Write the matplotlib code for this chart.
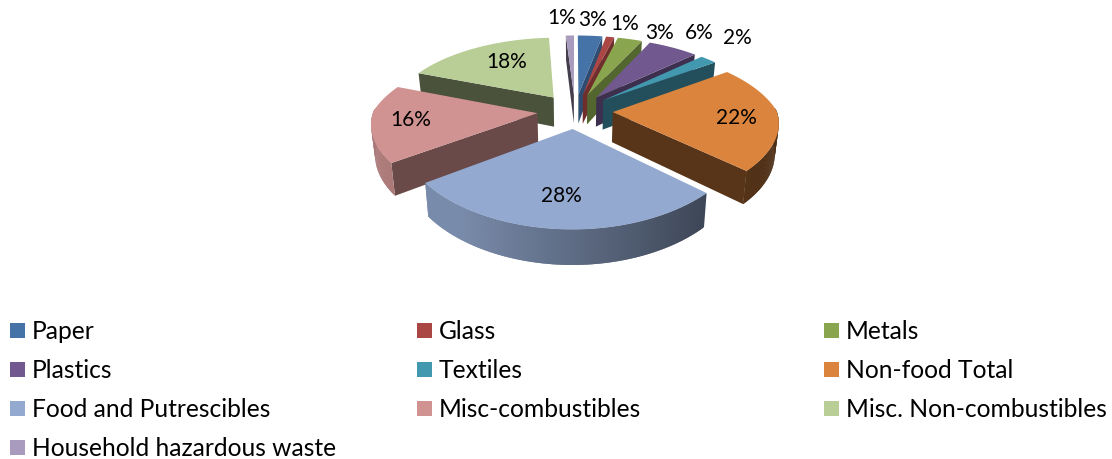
import numpy as np
import matplotlib
matplotlib.use("Agg")
import matplotlib.pyplot as plt
from matplotlib.colors import to_rgb
from matplotlib.patches import Polygon, Rectangle

plt.rcParams['font.family'] = ['Lato', 'DejaVu Sans']

categories = ["Paper", "Glass", "Metals", "Plastics", "Textiles", "Non-food Total",
              "Food and Putrescibles", "Misc-combustibles", "Misc. Non-combustibles",
              "Household hazardous waste"]
shares = [3, 1, 3, 6, 2, 22, 28, 16, 18, 1]
colors = ["#4572a7", "#aa4643", "#89a54e", "#71588f", "#4198af",
          "#db843d", "#93a9cf", "#d19392", "#b9cd96", "#a99bbd"]

# pixel layout of the pie
CX, CY = 575, 111
RX, RY = 164, 75
EXPLODE = 0.23
K_X_NEAR, K_X_FAR = 0.12, 0.21
K_Y = 0.18
DEPTH = 30

label_pos = [(593, 20), (625, 24), (660, 33), (699, 33), (737, 38),
             (736, 118), (561, 196), (411, 120), (507, 62), (562, 18)]


def project(x, y, lower=False):
    """ Flat disc coordinates to pixels, near side drawn larger """
    x, y = np.asarray(x, float), np.asarray(y, float)
    k_x = np.where(y > 0, K_X_NEAR, K_X_FAR)
    px = CX + RX * x / (1 - k_x * y)
    py = CY + RY * y / (1 - K_Y * y)
    if lower:
        px = CX + (px - CX) * 0.98
        py = py + DEPTH * (1 + 0.15 * y)
    return np.column_stack([px, py])


def shade(color, factor):
    return tuple(c * factor for c in to_rgb(color))


def draw_wedge(ax, start, end, color):
    """ One exploded slice, angles in degrees clockwise from the top """
    mid = np.radians((start + end) / 2)
    ox, oy = EXPLODE * np.sin(mid), -EXPLODE * np.cos(mid)
    angles = np.radians(np.linspace(start, end, max(int(end - start) * 2, 6)))
    arc_x = ox + np.sin(angles)
    arc_y = oy - np.cos(angles)

    # radial wall that faces the viewer
    for theta, visible in ((start, start > 180), (end, end <= 180)):
        if not visible:
            continue
        t = np.radians(theta)
        xs = [ox, ox + np.sin(t)]
        ys = [oy, oy - np.cos(t)]
        quad = np.vstack([project(xs, ys), project(xs, ys, lower=True)[::-1]])
        if start > 180:
            factor = 0.5 if start < 250 else 0.4
        else:
            factor = np.interp(theta, [0, 60, 130], [0.7, 0.5, 0.4])
        ax.add_patch(Polygon(quad, facecolor=shade(color, factor), edgecolor='none'))

    # outer wall, light on the left and dark on the right
    for i in range(len(angles) - 1):
        if np.cos(angles[i]) > 0.05 and np.cos(angles[i + 1]) > 0.05:
            continue
        # each strip runs over the next one so no seams show
        xs, ys = arc_x[i:i + 3], arc_y[i:i + 3]
        quad = np.vstack([project(xs, ys), project(xs, ys, lower=True)[::-1]])
        factor = np.interp(xs[0], [-1.1, -0.6, 0.7, 1.25], [0.82, 0.82, 0.42, 0.34])
        ax.add_patch(Polygon(quad, facecolor=shade(color, factor), edgecolor='none'))

    # top face
    top = np.vstack([project([ox], [oy]), project(arc_x, arc_y)])
    ax.add_patch(Polygon(top, facecolor=color, edgecolor='none'))


def main():
    fig = plt.figure(figsize=(11.12, 4.59), dpi=100)
    ax = fig.add_axes([0, 0, 1, 1])
    ax.set_xlim(0, 1112)
    ax.set_ylim(459, 0)
    ax.axis('off')

    edges = np.concatenate([[0], np.cumsum(shares)]) * 360 / sum(shares)
    slices = list(zip(edges[:-1], edges[1:], colors))
    # back slices first so the near ones overlap them
    slices.sort(key=lambda s: -np.cos(np.radians((s[0] + s[1]) / 2)))
    for start, end, color in slices:
        draw_wedge(ax, start, end, color)

    for share, (x, y) in zip(shares, label_pos):
        ax.text(x, y, f"{share}%", ha='center', va='center', fontsize=15, color='black')

    # legend, filled row by row
    col_x = [10, 417, 824]
    row_y = [330, 369, 408, 447]
    for i, name in enumerate(categories):
        x = col_x[i % 3]
        y = row_y[i // 3]
        ax.add_patch(Rectangle((x, y - 7), 15, 15, facecolor=colors[i], edgecolor='none'))
        ax.text(x + 22, y + 1.5, name, ha='left', va='center', fontsize=17.75, color='black')

    fig.savefig("out.png", dpi=100)
    plt.close('all')


main()
